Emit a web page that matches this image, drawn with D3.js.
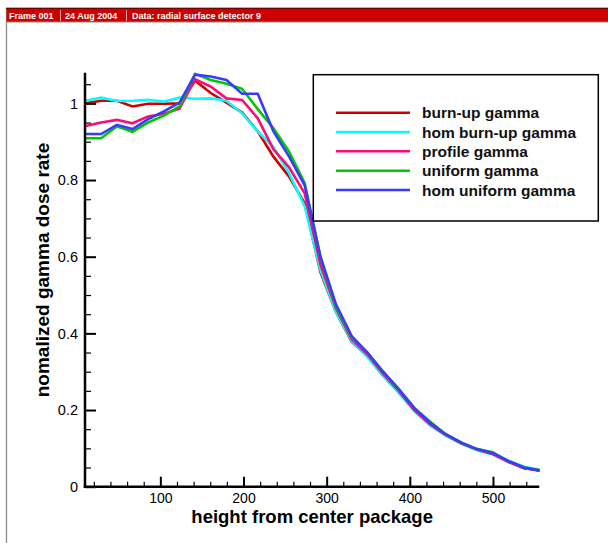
<!DOCTYPE html>
<html>
<head>
<meta charset="utf-8">
<script src="https://cdn.jsdelivr.net/npm/d3@7"></script>
<style>
  html, body { margin: 0; padding: 0; background: #fff; }
  svg { display: block; }
  text { font-family: "Liberation Sans", Arial, Helvetica, sans-serif; }
</style>
</head>
<body>
<svg id="chart" width="608" height="543"></svg>
<script>
// ---- data ----
const heights = [10, 28.8, 47.7, 66.5, 85.3, 104.2, 123, 141.8, 160.6, 179.5, 198.3, 217.1, 236, 254.8, 273.6, 292.5, 311.3, 330.1, 349, 367.8, 386.6, 405.5, 424.3, 443.1, 462, 480.8, 499.6, 518.4, 537.3, 556];
const burnUp = [1.0, 1.007, 1.007, 0.992, 0.999, 0.999, 1.0, 1.059, 1.027, 1.002, 0.976, 0.927, 0.861, 0.809, 0.739, 0.56, 0.455, 0.378, 0.34, 0.29, 0.247, 0.198, 0.162, 0.135, 0.113, 0.097, 0.087, 0.065, 0.048, 0.043];
const homBurnUp = [1.007, 1.015, 1.006, 1.007, 1.009, 1.005, 1.015, 1.012, 1.013, 1.007, 0.974, 0.927, 0.886, 0.818, 0.731, 0.565, 0.455, 0.38, 0.338, 0.29, 0.245, 0.197, 0.16, 0.133, 0.112, 0.095, 0.084, 0.068, 0.052, 0.045];
const profile = [0.941, 0.950, 0.957, 0.948, 0.966, 0.973, 0.986, 1.063, 1.044, 1.013, 1.009, 0.961, 0.880, 0.833, 0.765, 0.58, 0.465, 0.385, 0.345, 0.295, 0.25, 0.2, 0.163, 0.135, 0.113, 0.097, 0.085, 0.065, 0.048, 0.043];
const uniform = [0.909, 0.909, 0.940, 0.926, 0.950, 0.968, 0.992, 1.077, 1.061, 1.051, 1.038, 0.985, 0.935, 0.874, 0.792, 0.6, 0.47, 0.39, 0.35, 0.30, 0.253, 0.205, 0.17, 0.137, 0.115, 0.098, 0.09, 0.067, 0.05, 0.042];
const homUniform = [0.920, 0.920, 0.944, 0.933, 0.959, 0.979, 1.002, 1.075, 1.070, 1.061, 1.025, 1.025, 0.927, 0.861, 0.786, 0.6, 0.475, 0.393, 0.35, 0.30, 0.255, 0.205, 0.167, 0.137, 0.115, 0.098, 0.088, 0.067, 0.05, 0.042];

const seriesNames = ["burn-up gamma", "hom burn-up gamma", "profile gamma", "uniform gamma", "hom uniform gamma"];
const seriesColors = ["#d00000", "#00ffff", "#ff0a78", "#00c800", "#3a3aff"];
const seriesValues = [burnUp, homBurnUp, profile, uniform, homUniform];

const xMajorTicks = [100, 200, 300, 400, 500];
const yMajorTicks = [0, 0.2, 0.4, 0.6, 0.8, 1];
const yTickLabels = ["0", "0.2", "0.4", "0.6", "0.8", "1"];
const headerParts = ["Frame 001", "24 Aug 2004", "Data: radial surface detector 9"];

// ---- layout ----
const svg = d3.select("#chart");

// frame
svg.append("rect").attr("x", 6.5).attr("y", 8).attr("width", 620).attr("height", 560)
  .attr("fill", "#fff").attr("stroke", "#8a8a8a").attr("stroke-width", 1.3);
svg.append("rect").attr("x", 6.5).attr("y", 8).attr("width", 620).attr("height", 14)
  .attr("fill", "#cc0000");
svg.append("line").attr("x1", 6).attr("x2", 608).attr("y1", 8.5).attr("y2", 8.5)
  .attr("stroke", "#700000").attr("stroke-width", 1);
svg.append("line").attr("x1", 6).attr("x2", 608).attr("y1", 22).attr("y2", 22)
  .attr("stroke", "#8a8a8a").attr("stroke-width", 1);

const headerX = [9, 65, 132];
const sepX = [60.5, 126.5];
headerParts.forEach((t, i) => {
  svg.append("text").attr("x", headerX[i]).attr("y", 18.8).text(t)
    .attr("fill", "#fff").attr("font-size", 9).attr("font-weight", "bold");
});
sepX.forEach(x => {
  svg.append("line").attr("x1", x).attr("x2", x).attr("y1", 10).attr("y2", 21)
    .attr("stroke", "#f0a0a0").attr("stroke-width", 1);
});

const x = d3.scaleLinear().domain([9.4, 555.7]).range([85, 539.3]);
const y = d3.scaleLinear().domain([0, 1.08]).range([486.7, 72.7]);

// curves
const line = d3.line().x((d, i) => x(heights[i])).y(d => y(d));
seriesValues.forEach((vals, k) => {
  svg.append("path").datum(vals).attr("d", line)
    .attr("fill", "none").attr("stroke", seriesColors[k]).attr("stroke-width", 2.6)
    .attr("stroke-linejoin", "miter");
});

// axes
const xMinor = d3.range(20, 556, 20).filter(v => v % 100 !== 0);
const yMinor = d3.range(0.05, 1.08, 0.05)
  .filter(v => !yMajorTicks.some(m => Math.abs(m - v) < 1e-6));

const gx = svg.append("g").attr("transform", `translate(0,${y(0)})`);
gx.call(d3.axisBottom(x).tickValues(xMinor).tickSize(-5).tickFormat(""));
gx.selectAll(".tick line").attr("stroke", "#000").attr("stroke-width", 1.2);
const gx2 = svg.append("g").attr("transform", `translate(0,${y(0)})`);
gx2.call(d3.axisBottom(x).tickValues(xMajorTicks).tickSize(-10).tickPadding(6).tickFormat(d3.format("d")));
gx2.selectAll(".tick line").attr("stroke", "#000").attr("stroke-width", 2);
gx2.selectAll(".tick text").attr("font-size", 14).attr("fill", "#000")
  .attr("font-family", "Liberation Sans, Arial, sans-serif");
svg.selectAll(".domain").remove();

const gy = svg.append("g").attr("transform", `translate(${x.range()[0]},0)`);
gy.call(d3.axisLeft(y).tickValues(yMinor).tickSize(-6).tickFormat(""));
gy.selectAll(".tick line").attr("stroke", "#000").attr("stroke-width", 1.2);
const gy2 = svg.append("g").attr("transform", `translate(${x.range()[0]},0)`);
gy2.call(d3.axisLeft(y).tickValues(yMajorTicks).tickSize(-11).tickPadding(7)
  .tickFormat((d, i) => yTickLabels[i]));
gy2.selectAll(".tick line").attr("stroke", "#000").attr("stroke-width", 2);
gy2.selectAll(".tick text").attr("font-size", 14.5).attr("fill", "#000")
  .attr("font-family", "Liberation Sans, Arial, sans-serif");
svg.selectAll(".domain").remove();

// axis lines
svg.append("line").attr("x1", x.range()[0]).attr("x2", x.range()[0])
  .attr("y1", y.range()[1]).attr("y2", y(0) + 1.2).attr("stroke", "#000").attr("stroke-width", 2.5);
svg.append("line").attr("x1", x.range()[0] - 1.2).attr("x2", x.range()[1])
  .attr("y1", y(0)).attr("y2", y(0)).attr("stroke", "#000").attr("stroke-width", 2.5);

// axis titles
svg.append("text").attr("x", (x.range()[0] + x.range()[1]) / 2).attr("y", 523)
  .attr("text-anchor", "middle").attr("font-size", 18.5).attr("font-weight", "bold")
  .text("height from center package");
svg.append("text").attr("transform", "translate(49,270) rotate(-90)")
  .attr("text-anchor", "middle").attr("font-size", 19).attr("font-weight", "bold")
  .text("nomalized gamma dose rate");

// legend
const lg = svg.append("g");
lg.append("rect").attr("x", 313.3).attr("y", 74.7).attr("width", 285).attr("height", 146.3)
  .attr("fill", "#fff").attr("stroke", "#000").attr("stroke-width", 1.5);
const legendRows = [112.7, 132, 151.3, 170.7, 190];
seriesNames.forEach((name, k) => {
  lg.append("line").attr("x1", 336).attr("x2", 410).attr("y1", legendRows[k]).attr("y2", legendRows[k])
    .attr("stroke", seriesColors[k]).attr("stroke-width", 2.6);
  lg.append("text").attr("x", 422).attr("y", legendRows[k]).attr("dy", "0.36em")
    .attr("font-size", 15.5).attr("font-weight", "bold").attr("fill", "#111").text(name);
});
</script>
</body>
</html>
